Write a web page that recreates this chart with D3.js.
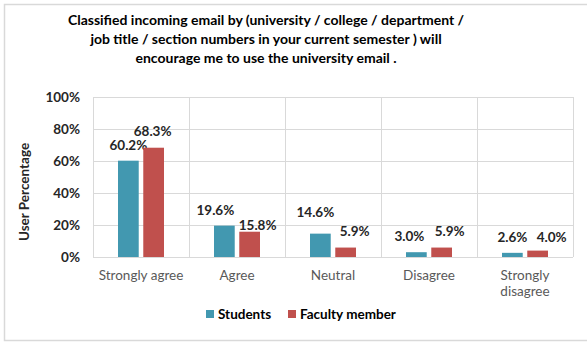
<!DOCTYPE html>
<html>
<head>
<meta charset="utf-8">
<script src="https://cdn.jsdelivr.net/npm/d3@7"></script>
<style>
  html, body { margin: 0; padding: 0; background: #fff; }
  svg { display: block; font-family: Lato, "Open Sans", sans-serif; }
</style>
</head>
<body>
<svg id="chart" width="587" height="342"></svg>
<script>
// Survey responses by group
const categories = ["Strongly agree", "Agree", "Neutral", "Disagree", "Strongly disagree"];
const seriesNames = ["Students", "Faculty member"];
const students = [60.2, 19.6, 14.6, 3.0, 2.6];
const faculty = [68.3, 15.8, 5.9, 5.9, 4.0];
const yTicks = [0, 20, 40, 60, 80, 100];
const titleLines = [
  "Classified incoming email by (university / college / department /",
  "job title / section numbers in your current semester ) will",
  "encourage me to use the university email ."
];

// Hand-placed label offsets [dx, dy] relative to the bar's top centre
const studentLabelNudge = [[0, -11], [-9, -11], [-5, -17], [-7, -11], [0, -11]];
const facultyLabelNudge = [[-1, -12], [8, -2], [9, -12], [8, -12], [14, -9]];

const colors = ["#4298B0", "#C0504D"];
const series = [students, faculty];
const nudges = [studentLabelNudge, facultyLabelNudge];

const svg = d3.select("#chart");
const W = 587, H = 342;

// Chart frame
svg.append("rect")
  .attr("x", 4.5).attr("y", 4.5)
  .attr("width", W + 10).attr("height", 336)
  .attr("fill", "#fff").attr("stroke", "#D9D9D9").attr("stroke-width", 1.5);

const plot = { left: 93, right: 573, top: 97, bottom: 257 };

const x = d3.scaleBand().domain(categories).range([plot.left, plot.right]);
const xInner = d3.scaleBand().domain(seriesNames)
  .range([x.bandwidth() / 2 - 23, x.bandwidth() / 2 + 23]).paddingInner(0.18);
const y = d3.scaleLinear().domain([0, 100]).range([plot.bottom, plot.top]);

// Title
svg.append("g").selectAll("text").data(titleLines).join("text")
  .attr("x", 266).attr("y", (d, i) => 25 + i * 19)
  .attr("text-anchor", "middle")
  .attr("font-size", 14).attr("font-weight", 700).attr("fill", "#000")
  .text(d => d);

// Horizontal gridlines
svg.append("g").selectAll("line").data(yTicks).join("line")
  .attr("x1", plot.left).attr("x2", plot.right)
  .attr("y1", d => y(d) + 0.5).attr("y2", d => y(d) + 0.5)
  .attr("stroke", "#D9D9D9").attr("stroke-width", 1);

// Vertical gridlines at category boundaries
const bounds = categories.map(c => x(c)).concat([plot.right]);
svg.append("g").selectAll("line").data(bounds).join("line")
  .attr("x1", d => Math.round(d) + 0.5).attr("x2", d => Math.round(d) + 0.5)
  .attr("y1", plot.top).attr("y2", plot.bottom)
  .attr("stroke", "#D9D9D9").attr("stroke-width", 1);

// Y axis
const yAxis = d3.axisLeft(y).tickValues(yTicks).tickFormat(d => d + "%").tickSize(0).tickPadding(13);
const yg = svg.append("g").attr("transform", `translate(${plot.left},0)`).call(yAxis);
yg.select(".domain").remove();
yg.selectAll("text")
  .attr("font-family", "Lato, 'Open Sans', sans-serif")
  .attr("font-size", 13.5).attr("font-weight", 700).attr("fill", "#262626");

// Y axis title
svg.append("text")
  .attr("transform", "translate(29,192) rotate(-90)")
  .attr("text-anchor", "middle")
  .attr("font-size", 13.5).attr("font-weight", 700).attr("fill", "#262626")
  .text("User Percentage");

// X axis
const xAxis = d3.axisBottom(x).tickSize(0).tickPadding(13);
const xg = svg.append("g").attr("transform", `translate(0,${plot.bottom})`).call(xAxis);
xg.select(".domain").remove();
xg.selectAll(".tick text")
  .attr("font-family", "Lato, 'Open Sans', sans-serif")
  .attr("font-size", 13.5).attr("fill", "#595959")
  .each(function(d) {
    const t = d3.select(this);
    if (d === "Strongly disagree") {
      t.text(null);
      ["Strongly", "disagree"].forEach((w, i) => {
        t.append("tspan").attr("x", 0).attr("dy", i === 0 ? "0.71em" : "1.25em").text(w);
      });
    }
  });

// Bars and value labels
series.forEach((vals, si) => {
  const g = svg.append("g");
  g.selectAll("rect").data(vals).join("rect")
    .attr("x", (d, i) => x(categories[i]) + xInner(seriesNames[si]))
    .attr("y", d => y(d))
    .attr("width", xInner.bandwidth())
    .attr("height", d => plot.bottom - y(d))
    .attr("fill", colors[si]);
  g.selectAll("text").data(vals).join("text")
    .attr("x", (d, i) => x(categories[i]) + xInner(seriesNames[si]) + xInner.bandwidth() / 2 + nudges[si][i][0])
    .attr("y", (d, i) => y(d) + nudges[si][i][1])
    .attr("text-anchor", "middle")
    .attr("font-size", 13.5).attr("font-weight", 700).attr("fill", "#262626")
    .text(d => d.toFixed(1) + "%");
});

// Legend
const legendX = [206, 288];
const legend = svg.append("g").selectAll("g").data(seriesNames).join("g")
  .attr("transform", (d, i) => `translate(${legendX[i]},314)`);
legend.append("rect")
  .attr("x", 0).attr("y", -4).attr("width", 8).attr("height", 8)
  .attr("fill", (d, i) => colors[i]);
legend.append("text")
  .attr("x", 12).attr("y", 0).attr("dy", "0.35em")
  .attr("font-size", 13.5).attr("font-weight", 700).attr("fill", "#000")
  .text(d => d);
</script>
</body>
</html>
